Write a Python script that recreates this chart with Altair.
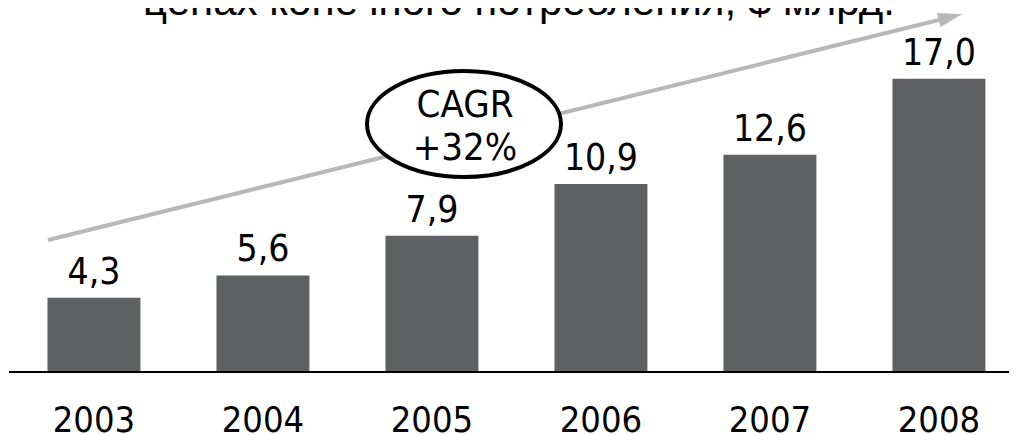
import altair as alt
import pandas as pd

# ---- data ----
years = ["2003", "2004", "2005", "2006", "2007", "2008"]
values = [4.3, 5.6, 7.9, 10.9, 12.6, 17.0]
labels = ["4,3", "5,6", "7,9", "10,9", "12,6", "17,0"]
title_text = "ценах конечного потребления, $ млрд."
cagr_lines = ["CAGR", "+32%"]

df = pd.DataFrame({"year": years, "value": values, "label": labels})
one = pd.DataFrame({"k": [0]})

FONT = "'DejaVu Sans Condensed', 'DejaVu Sans', sans-serif"
TITLE_FONT = "'Liberation Sans', Arial, sans-serif"
BAR = "#5f6062"
ARROW = "#b8b8b8"

W, H = 1001, 364

x = alt.X(
    "year:N",
    sort=years,
    scale=alt.Scale(paddingInner=0.45, paddingOuter=0.1866, align=0.626),
    axis=alt.Axis(
        title=None, labelAngle=0, labelFont=FONT, labelFontSize=36,
        labelColor="black", labelBaseline="alphabetic", labelPadding=59,
        ticks=False, tickSize=0, domain=False,
        grid=False, labelFontWeight="normal",
    ),
)
y = alt.Y("value:Q", scale=alt.Scale(domain=[0, 21.1], nice=False), axis=None)

base = alt.Chart(df)
bars = base.mark_bar(color=BAR).encode(x=x, y=y)
vals = base.mark_text(
    dy=-14, baseline="alphabetic", font=FONT, fontSize=37, color="black"
).encode(x=x, y=y, text="label:N")

ann = alt.Chart(one)
baseline_rule = ann.mark_rule(color="black", strokeWidth=2.2).encode(
    x=alt.value(1), x2=alt.value(1012), y=alt.datum(0)
)
arrow_line = ann.mark_rule(color=ARROW, strokeWidth=4, strokeCap="butt").encode(
    x=alt.value(40), y=alt.value(232), x2=alt.value(931.7), y2=alt.value(11.8)
)
arrow_head = ann.mark_point(
    shape="M1,0L-1,-0.6L-1,0.6Z", size=576, filled=True, color=ARROW,
    opacity=1, angle=346.13, strokeWidth=0,
).encode(x=alt.value(942.4), y=alt.value(9.1))

ELLIPSE = ("M1,0 C1,0.3016 0.5523,0.546 0,0.546 C-0.5523,0.546 -1,0.3016 -1,0 "
           "C-1,-0.3016 -0.5523,-0.546 0,-0.546 C0.5523,-0.546 1,-0.3016 1,0 Z")
ellipse = ann.mark_point(
    shape=ELLIPSE, size=37636, filled=True, fill="white", stroke="black",
    strokeWidth=4, opacity=1, fillOpacity=1, strokeOpacity=1,
).encode(x=alt.value(456), y=alt.value(116))

cagr = ann.mark_text(
    text=cagr_lines, lineHeight=43, baseline="alphabetic", align="center",
    font=FONT, fontSize=38, color="black",
).encode(x=alt.value(457), y=alt.value(109))

title = ann.mark_text(
    text=title_text, baseline="alphabetic", align="center",
    font=TITLE_FONT, fontSize=42, color="black",
).encode(x=alt.value(511), y=alt.value(7))

chart = alt.layer(
    bars, vals, baseline_rule, arrow_line, arrow_head, ellipse, cagr, title
).properties(
    width=W, height=H,
    autosize=alt.AutoSizeParams(type="none"),
    padding={"left": 0, "right": 0, "top": 0, "bottom": 63},
    background="white",
).configure_view(stroke=None)

chart.save("out.html", embed_options={"renderer": "svg", "actions": False})
